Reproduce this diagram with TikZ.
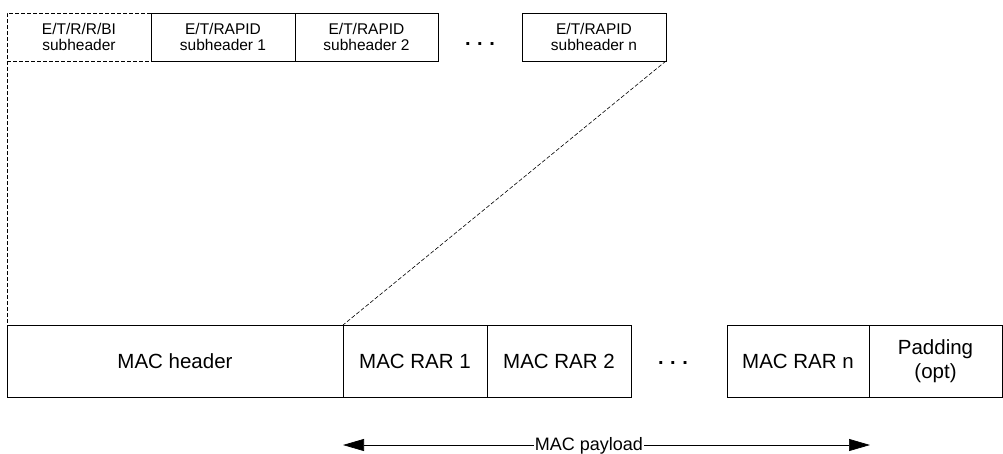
\documentclass[tikz,border=0pt]{standalone}
\usepackage{fontspec}
\setmainfont{Liberation Sans}
\usetikzlibrary{arrows.meta}
\begin{document}
\begin{tikzpicture}[x=1pt,y=-1pt,
  cell/.style={draw,line width=0.7pt,inner sep=0pt,outer sep=0pt,align=center},
  topcell/.style={cell,minimum height=48pt,font=\fontsize{15.5}{16}\selectfont},
  botcell/.style={cell,minimum height=72pt,font=\fontsize{20.5}{24}\selectfont},
  link/.style={dashed,line width=0.6pt,dash pattern=on 4pt off 2pt},
  dotsty/.style={font=\fontsize{20}{20}\selectfont\bfseries,inner sep=0pt}]
\useasboundingbox (0,0) rectangle (1003,453);
% top subheaders
\node[topcell,dashed,dash pattern=on 4pt off 2pt,minimum width=144pt] (sh0) at (79,37) {E/T/R/R/BI\\subheader};
\node[topcell,minimum width=144pt] (sh1) at (223,37) {E/T/RAPID\\subheader 1};
\node[topcell,minimum width=143pt] (sh2) at (366.5,37) {E/T/RAPID\\subheader 2};
\node[dotsty,anchor=base] (tdots) at (480,45) {.\,\,.\,\,.};
\node[topcell,minimum width=144pt] (shn) at (594,37) {E/T/RAPID\\subheader n};
% bottom PDU
\node[botcell,minimum width=336pt] (mh) at (175,361) {MAC header};
\node[botcell,minimum width=144pt] (r1) at (415,361) {MAC RAR 1};
\node[botcell,minimum width=144pt] (r2) at (559,361) {MAC RAR 2};
\node[dotsty,anchor=base] (bdots) at (673,364) {.\,\,.\,\,.};
\node[botcell,minimum width=142pt] (rn) at (798,361) {MAC RAR n};
\node[botcell,minimum width=133pt] (pad) at (935.5,361) {Padding\\(opt)};
% dashed links
\draw[link] (sh0.south west) -- (mh.north west);
\draw[link] (shn.south east) -- (r1.north west);
% payload arrow
\coordinate (pl) at (343,445);
\coordinate (pr) at (870,445);
\node[font=\fontsize{18}{18}\selectfont,inner sep=1pt,anchor=base] (pay) at (589,450) {MAC payload};
\draw[line width=0.7pt,-{Triangle[length=21pt,width=12pt]}] (pay.west |- pl) -- (pl);
\draw[line width=0.7pt,-{Triangle[length=21pt,width=12pt]}] (pay.east |- pr) -- (pr);
\end{tikzpicture}
\end{document}
